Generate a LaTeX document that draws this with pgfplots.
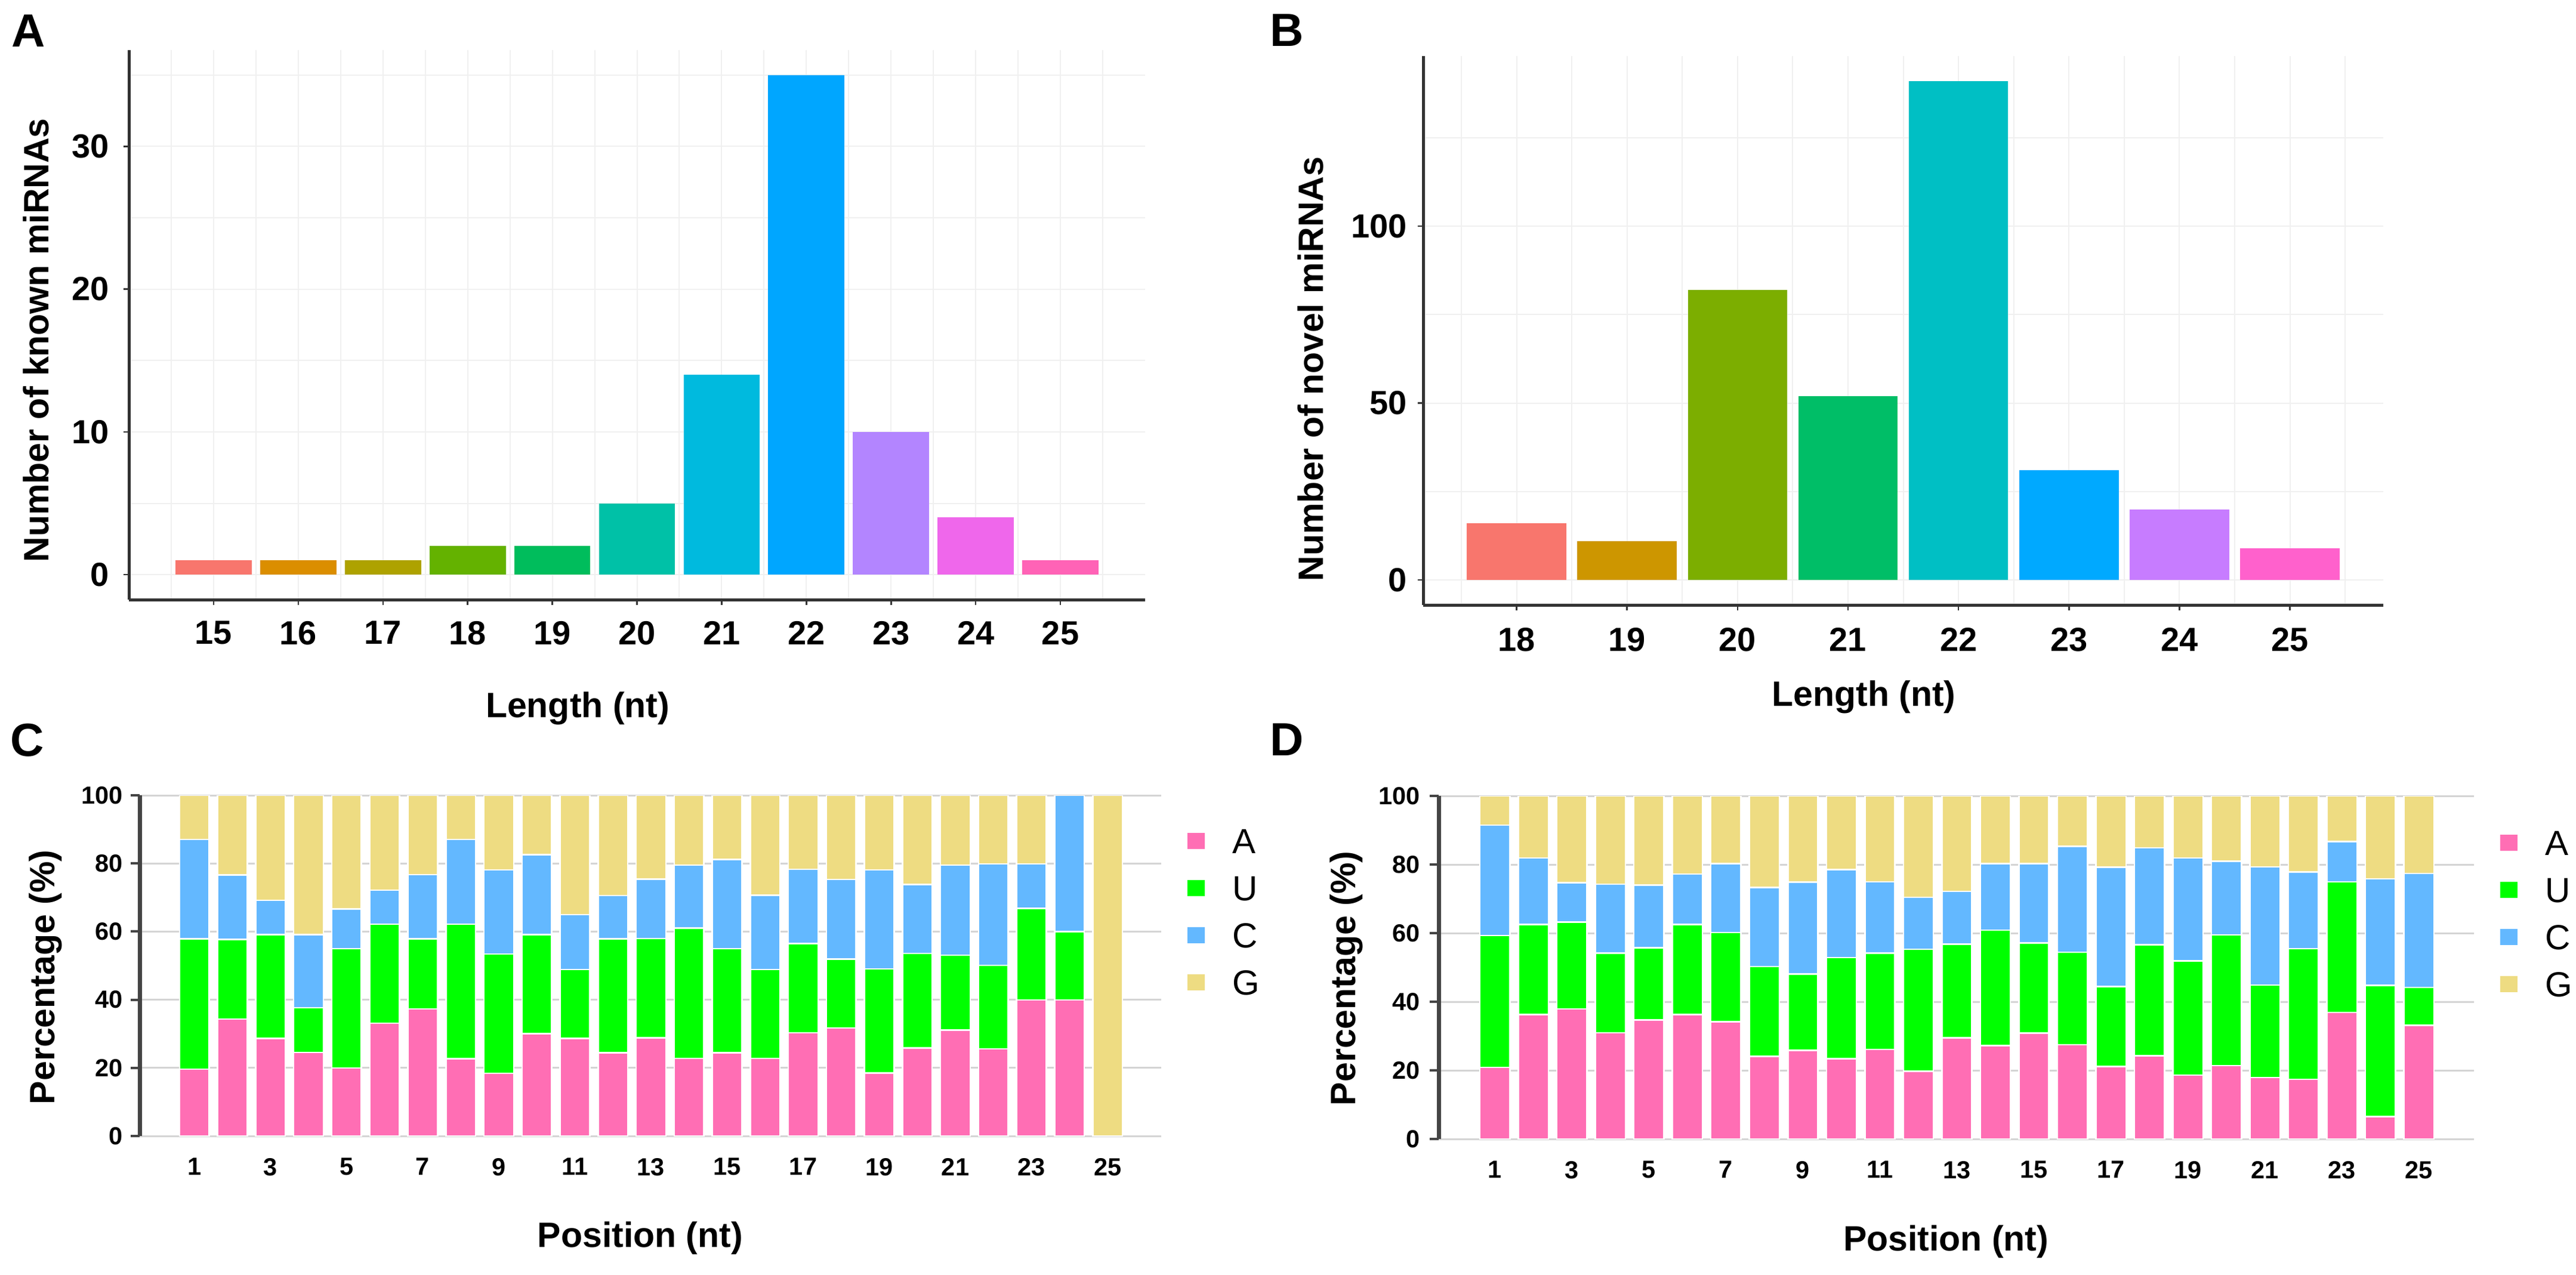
\documentclass[border=0pt]{standalone}
\usepackage{pgfplots}
\pgfplotsset{compat=1.18}
\usepackage{fontspec}
\setmainfont{Liberation Sans}

\definecolor{a1}{HTML}{F8766D}\definecolor{a2}{HTML}{DB8E00}\definecolor{a3}{HTML}{AEA200}
\definecolor{a4}{HTML}{64B200}\definecolor{a5}{HTML}{00BD5C}\definecolor{a6}{HTML}{00C1A7}
\definecolor{a7}{HTML}{00BADE}\definecolor{a8}{HTML}{00A6FF}\definecolor{a9}{HTML}{B385FF}
\definecolor{a10}{HTML}{EF67EB}\definecolor{a11}{HTML}{FF63B6}
\definecolor{b1}{HTML}{F8766D}\definecolor{b2}{HTML}{CD9600}\definecolor{b3}{HTML}{7CAE00}
\definecolor{b4}{HTML}{00BE67}\definecolor{b5}{HTML}{00BFC4}\definecolor{b6}{HTML}{00A9FF}
\definecolor{b7}{HTML}{C77CFF}\definecolor{b8}{HTML}{FF61CC}
\definecolor{nA}{HTML}{FF6EB4}\definecolor{nU}{HTML}{00FF00}
\definecolor{nC}{HTML}{63B8FF}\definecolor{nG}{HTML}{EEDC82}
\definecolor{axc}{HTML}{333333}\definecolor{axcd}{HTML}{444444}
\definecolor{gridAB}{HTML}{F0F0F0}\definecolor{gridCD}{HTML}{D4D4D4}

\newcommand{\fTickAB}{\fontsize{11.2}{13}\selectfont\bfseries}
\newcommand{\fLab}{\fontsize{11.8}{14}\selectfont\bfseries}
\newcommand{\fTickCD}{\fontsize{8.3}{10}\selectfont\bfseries}
\newcommand{\fLeg}{\fontsize{11.7}{14}\selectfont}
\newcommand{\fPanel}{\fontsize{15.6}{18}\selectfont\bfseries}

\pgfplotsset{
  lenAB/.style={
    scale only axis,
    axis x line=bottom, axis y line=left,
    axis line style={-, draw=axc, line width=1pt},
    ybar, bar width=0.9,
    grid=both,
    major grid style={draw=gridAB, line width=0.4pt},
    minor grid style={draw=gridAB, line width=0.4pt},
    tick align=outside, major tick length=1.8pt, minor tick length=0pt,
    tick style={draw=axc, line width=0.5pt},
    ticklabel style={font=\fTickAB, inner sep=0pt},
    /pgf/number format/assume math mode=true,
  },
  compCD/.style={
    scale only axis,
    axis x line=bottom, axis y line=left,
    x axis line style={draw=none},
    y axis line style={-, draw=axcd, line width=1.4pt},
    ybar stacked, bar width=0.78,
    ymin=0, ymax=100,
    xtick={1,3,...,25}, ytick={0,20,...,100},
    ymajorgrids, major grid style={draw=gridCD, line width=0.6pt},
    tick align=outside, major tick length=3pt,
    xtick style={draw=none},
    ytick style={draw=axcd, line width=0.8pt},
    ticklabel style={font=\fTickCD, inner sep=0pt},
    xticklabel shift=4.2pt,
    /pgf/number format/assume math mode=true,
    every axis y label/.style={rotate=90, anchor=center, font=\fLab},
    every axis x label/.style={anchor=center, font=\fLab},
    ylabel={Percentage (\%)}, xlabel={Position (nt)},
    legend style={anchor=west, draw=none, fill=none, inner sep=0pt, outer sep=0pt,
      font=\fLeg, row sep=7.4pt,
      nodes={inner sep=0pt, text height=8.4pt, text depth=0pt},
      /tikz/every odd column/.style={column sep=9.2pt}},
    legend cell align=left,
  },
  sq/.style={draw=white, line width=0.5pt,
    legend image code/.code={\path[##1,draw=none] (0pt,-2.7pt) rectangle (5.8pt,2.7pt);}},
}

\begin{document}
\begin{tikzpicture}
\path[use as bounding box] (0pt,0pt) rectangle (863.4pt,-427.4pt);

% ---------------- A ----------------
\begin{axis}[lenAB,
  at={(43.2pt,-201pt)}, anchor=south west,
  width=340.6pt, height=184.2pt,
  xmin=14, xmax=26, ymin=-1.75, ymax=36.75,
  xtick={15,...,25}, ytick={0,10,20,30},
  minor xtick={14.5,15.5,...,25.5}, minor ytick={5,15,25,35},
  yticklabel shift=4.6pt, xticklabel shift=5.2pt,
  every axis y label/.style={at={(axis description cs:-0.0916,0.472)}, rotate=90, anchor=center, font=\fLab},
  every axis x label/.style={at={(axis description cs:0.4416,-0.198)}, anchor=center, font=\fLab},
  ylabel={Number of known miRNAs}, xlabel={Length (nt)},
]
\addplot[fill=a1, draw=none, bar shift=0pt] coordinates {(15,1)};
\addplot[fill=a2, draw=none, bar shift=0pt] coordinates {(16,1)};
\addplot[fill=a3, draw=none, bar shift=0pt] coordinates {(17,1)};
\addplot[fill=a4, draw=none, bar shift=0pt] coordinates {(18,2)};
\addplot[fill=a5, draw=none, bar shift=0pt] coordinates {(19,2)};
\addplot[fill=a6, draw=none, bar shift=0pt] coordinates {(20,5)};
\addplot[fill=a7, draw=none, bar shift=0pt] coordinates {(21,14)};
\addplot[fill=a8, draw=none, bar shift=0pt] coordinates {(22,35)};
\addplot[fill=a9, draw=none, bar shift=0pt] coordinates {(23,10)};
\addplot[fill=a10, draw=none, bar shift=0pt] coordinates {(24,4)};
\addplot[fill=a11, draw=none, bar shift=0pt] coordinates {(25,1)};
\end{axis}

% ---------------- B ----------------
\begin{axis}[lenAB,
  at={(477pt,-202.8pt)}, anchor=south west,
  width=321.8pt, height=184pt,
  xmin=17.155, xmax=25.845, ymin=-7.05, ymax=148.05,
  xtick={18,...,25}, ytick={0,50,100},
  minor xtick={17.5,18.5,...,25.5}, minor ytick={25,75,125},
  yticklabel shift=3.4pt, xticklabel shift=5.6pt,
  every axis y label/.style={at={(axis description cs:-0.117,0.43)}, rotate=90, anchor=center, font=\fLab},
  every axis x label/.style={at={(axis description cs:0.459,-0.168)}, anchor=center, font=\fLab},
  ylabel={Number of novel miRNAs}, xlabel={Length (nt)},
]
\addplot[fill=b1, draw=none, bar shift=0pt] coordinates {(18,16)};
\addplot[fill=b2, draw=none, bar shift=0pt] coordinates {(19,11)};
\addplot[fill=b3, draw=none, bar shift=0pt] coordinates {(20,82)};
\addplot[fill=b4, draw=none, bar shift=0pt] coordinates {(21,52)};
\addplot[fill=b5, draw=none, bar shift=0pt] coordinates {(22,141)};
\addplot[fill=b6, draw=none, bar shift=0pt] coordinates {(23,31)};
\addplot[fill=b7, draw=none, bar shift=0pt] coordinates {(24,20)};
\addplot[fill=b8, draw=none, bar shift=0pt] coordinates {(25,9)};
\end{axis}

% ---------------- C ----------------
\begin{axis}[compCD,
  at={(46.8pt,-380.8pt)}, anchor=south west,
  width=342.4pt, height=114.2pt,
  xmin=-0.44, xmax=26.41,
  yticklabel shift=2.4pt,
  every axis y label/.append style={at={(axis description cs:-0.092,0.466)}},
  every axis x label/.append style={at={(axis description cs:0.49,-0.30)}},
  legend style={at={(axis description cs:1.0257,0.658)}},
]
\addplot[sq, fill=nA] coordinates {(1,19.6) (2,34.3) (3,28.6) (4,24.5) (5,20.0) (6,33.1) (7,37.3) (8,22.7) (9,18.4) (10,30.0) (11,28.6) (12,24.4) (13,28.8) (14,22.8) (15,24.4) (16,22.8) (17,30.3) (18,31.7) (19,18.5) (20,25.8) (21,31.1) (22,25.6) (23,39.9) (24,39.9) (25,0)};
\addplot[sq, fill=nU] coordinates {(1,38.3) (2,23.4) (3,30.5) (4,13.2) (5,35.0) (6,29.1) (7,20.6) (8,39.5) (9,35.0) (10,29.1) (11,20.3) (12,33.5) (13,29.2) (14,38.2) (15,30.6) (16,26.1) (17,26.2) (18,20.2) (19,30.5) (20,27.8) (21,22.0) (22,24.5) (23,26.9) (24,20.1) (25,0)};
\addplot[sq, fill=nC] coordinates {(1,29.1) (2,18.9) (3,10.1) (4,21.4) (5,11.6) (6,10.0) (7,18.8) (8,24.8) (9,24.7) (10,23.5) (11,16.1) (12,12.7) (13,17.4) (14,18.5) (15,26.2) (16,21.8) (17,21.8) (18,23.4) (19,29.1) (20,20.2) (21,26.4) (22,29.8) (23,13.1) (24,40.0) (25,0)};
\addplot[sq, fill=nG] coordinates {(1,13.0) (2,23.4) (3,30.8) (4,40.9) (5,33.4) (6,27.8) (7,23.3) (8,13.0) (9,21.9) (10,17.4) (11,35.0) (12,29.4) (13,24.6) (14,20.5) (15,18.8) (16,29.3) (17,21.7) (18,24.7) (19,21.9) (20,26.2) (21,20.5) (22,20.1) (23,20.1) (24,0) (25,100)};
\legend{A,U,C,G}
\end{axis}

% ---------------- D ----------------
\begin{axis}[compCD,
  at={(482.2pt,-381.8pt)}, anchor=south west,
  width=347pt, height=115pt,
  xmin=-0.46, xmax=26.43,
  yticklabel shift=3pt,
  every axis y label/.append style={at={(axis description cs:-0.0893,0.468)}},
  every axis x label/.append style={at={(axis description cs:0.49,-0.30)}},
  legend style={at={(axis description cs:1.0254,0.657)}},
]
\addplot[sq, fill=nA] coordinates {(1,20.9) (2,36.3) (3,37.9) (4,31.0) (5,34.7) (6,36.3) (7,34.2) (8,24.1) (9,25.8) (10,23.4) (11,26.1) (12,19.7) (13,29.5) (14,27.2) (15,30.9) (16,27.5) (17,21.1) (18,24.3) (19,18.6) (20,21.4) (21,17.9) (22,17.4) (23,36.9) (24,6.5) (25,33.1)};
\addplot[sq, fill=nU] coordinates {(1,38.4) (2,26.2) (3,25.3) (4,23.2) (5,21.0) (6,26.2) (7,26.0) (8,26.2) (9,22.3) (10,29.5) (11,28.1) (12,35.6) (13,27.3) (14,33.7) (15,26.2) (16,26.9) (17,23.3) (18,32.3) (19,33.3) (20,38.1) (21,27.0) (22,38.1) (23,38.1) (24,38.3) (25,11.1)};
\addplot[sq, fill=nC] coordinates {(1,32.2) (2,19.4) (3,11.5) (4,20.1) (5,18.3) (6,14.7) (7,20.1) (8,23.0) (9,26.8) (10,25.6) (11,20.8) (12,15.1) (13,15.4) (14,19.4) (15,23.2) (16,30.9) (17,34.8) (18,28.3) (19,30.0) (20,21.5) (21,34.4) (22,22.3) (23,11.7) (24,31.0) (25,33.2)};
\addplot[sq, fill=nG] coordinates {(1,8.5) (2,18.1) (3,25.3) (4,25.7) (5,26.0) (6,22.8) (7,19.7) (8,26.7) (9,25.1) (10,21.5) (11,25.0) (12,29.6) (13,27.8) (14,19.7) (15,19.7) (16,14.7) (17,20.8) (18,15.1) (19,18.1) (20,19.0) (21,20.7) (22,22.2) (23,13.3) (24,24.2) (25,22.6)};
\legend{A,U,C,G}
\end{axis}

% panel letters
\node[font=\fPanel] at (9.6pt,-10.4pt) {A};
\node[font=\fPanel] at (431.4pt,-10.2pt) {B};
\node[font=\fPanel] at (9.2pt,-248.2pt) {C};
\node[font=\fPanel] at (431.4pt,-248pt) {D};
\end{tikzpicture}
\end{document}
